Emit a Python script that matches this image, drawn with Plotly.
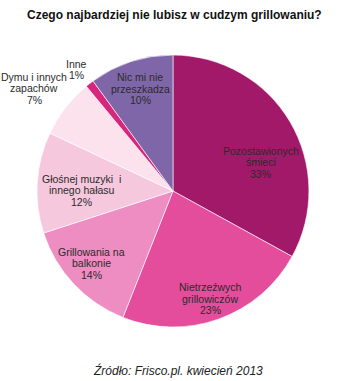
import math
import plotly.graph_objects as go

# Survey answers, clockwise from 12 o'clock
categories = [
    "Pozostawionych|śmieci",
    "Nietrzeźwych|grillowiczów",
    "Grillowania na|balkonie",
    "Głośnej muzyki  i|innego hałasu",
    "Dymu i innych|zapachów",
    "Inne",
    "Nic mi nie|przeszkadza",
]
values = [33, 23, 14, 12, 7, 1, 10]
colors = ["#A3196A", "#E34D9B", "#EE8DC1", "#F6C8DE", "#FBE2ED", "#D8257D", "#7F66A8"]

# label placement: distance from the centre (fraction of radius)
# and a small turn (degrees) away from the slice's mid-angle
label_radius = [0.68, 0.84, 0.80, 0.67, 1.27, 1.14, 0.79]
label_turn = [12.4, 0.8, 1.6, -3.0, -1.3, -0.7, 0.2]

W, H = 338, 381
dom_x = [0.1095, 0.914]
dom_y = [0.1417, 0.8556]
FONT = "Liberation Sans, Arial, sans-serif"
LINE_H = 11.5

fig = go.Figure(go.Pie(
    labels=[c.replace("|", " ") for c in categories],
    values=values,
    sort=False,
    direction="clockwise",
    rotation=0,
    marker=dict(colors=colors, line=dict(color="white", width=0.6)),
    textinfo="none",
    hoverinfo="label+percent",
    showlegend=False,
    domain=dict(x=dom_x, y=dom_y),
))

# place each label around its slice's mid-angle, one annotation per line
cx = (dom_x[0] + dom_x[1]) / 2 * W
cy = (1 - (dom_y[0] + dom_y[1]) / 2) * H
R = min((dom_x[1] - dom_x[0]) * W, (dom_y[1] - dom_y[0]) * H) / 2
total = sum(values)
cum = 0
annotations = []
for name, v, rf, turn in zip(categories, values, label_radius, label_turn):
    mid = (cum + v / 2) / total * 2 * math.pi + math.radians(turn)
    cum += v
    px = cx + rf * R * math.sin(mid)
    py = cy - rf * R * math.cos(mid)
    lines = name.split("|") + [f"{v}%"]
    n = len(lines)
    for i, line in enumerate(lines):
        ly = py + (i - (n - 1) / 2) * LINE_H
        annotations.append(dict(
            x=px / W, y=1 - ly / H, xref="paper", yref="paper",
            text=line, showarrow=False,
            xanchor="center", yanchor="middle", align="center",
            font=dict(family=FONT, size=10.5, color="#2b2b2b"),
        ))

annotations.append(dict(
    x=0.515, y=1 - 15 / H, xref="paper", yref="paper",
    text="<b>Czego najbardziej nie lubisz w cudzym grillowaniu?</b>",
    showarrow=False, xanchor="center", yanchor="middle",
    font=dict(family=FONT, size=12, color="#111111"),
))
annotations.append(dict(
    x=0.527, y=1 - 370 / H, xref="paper", yref="paper",
    text="<i>Źródło: Frisco.pl. kwiecień 2013</i>",
    showarrow=False, xanchor="center", yanchor="middle",
    font=dict(family=FONT, size=12, color="#222222"),
))

fig.update_layout(
    width=W, height=H,
    margin=dict(l=0, r=0, t=0, b=0),
    paper_bgcolor="white",
    plot_bgcolor="white",
    annotations=annotations,
)

fig.write_html("out.html")
